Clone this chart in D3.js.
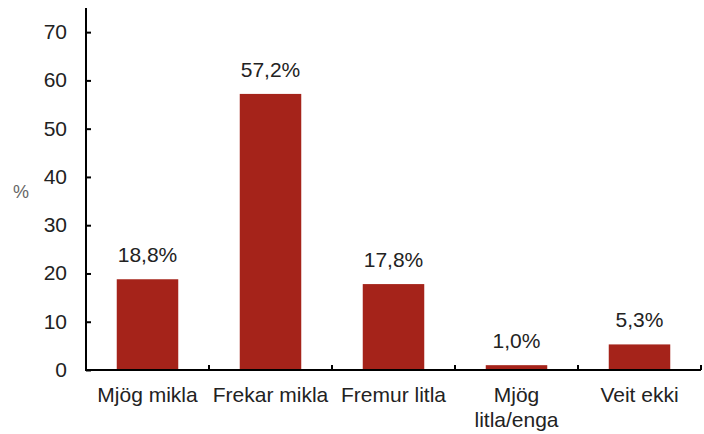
<!DOCTYPE html>
<html>
<head>
<meta charset="utf-8">
<script src="https://cdn.jsdelivr.net/npm/d3@7"></script>
<style>
  body { margin: 0; background: #fff; }
  text { font-family: "Liberation Sans", Arial, sans-serif; }
</style>
</head>
<body>
<svg id="chart"></svg>
<script>
// chart data
let categories = ['Mjög mikla', 'Frekar mikla', 'Fremur litla', 'Mjög litla/enga', 'Veit ekki']
let labelLines = [['Mjög mikla'], ['Frekar mikla'], ['Fremur litla'], ['Mjög', 'litla/enga'], ['Veit ekki']]
let values = [18.8, 57.2, 17.8, 1.0, 5.3]
let valueLabels = ['18,8%', '57,2%', '17,8%', '1,0%', '5,3%']
let yTicks = [0, 10, 20, 30, 40, 50, 60, 70]

let width = 704
let height = 434
let plotLeft = 86, plotRight = 701, plotTop = 8, plotBottom = 370
let barColor = '#a5231a'
let textColor = '#222'
let fontSize = 21

let svg = d3.select('#chart')
            .attr('width', width)
            .attr('height', height)

let xScale = d3.scaleBand()
               .domain(categories)
               .range([plotLeft, plotRight])
               .paddingInner(0.5)
               .paddingOuter(0.25)

let yScale = d3.scaleLinear()
               .domain([0, 75])
               .range([plotBottom, plotTop])

// bars
svg.selectAll('rect.bar')
   .data(values)
   .enter()
   .append('rect')
   .attr('class', 'bar')
   .attr('x', (d, i) => xScale(categories[i]))
   .attr('y', d => yScale(d))
   .attr('width', xScale.bandwidth())
   .attr('height', d => yScale(0) - yScale(d))
   .attr('fill', barColor)

// value labels
svg.selectAll('text.val')
   .data(values)
   .enter()
   .append('text')
   .attr('class', 'val')
   .attr('x', (d, i) => xScale(categories[i]) + xScale.bandwidth() / 2)
   .attr('y', d => yScale(d) - 17)
   .attr('text-anchor', 'middle')
   .attr('font-size', fontSize)
   .attr('fill', textColor)
   .text((d, i) => valueLabels[i])

// y axis
let yAxis = d3.axisRight(yScale)
              .tickValues(yTicks)
              .tickSize(5)
              .tickFormat('')
let yg = svg.append('g')
            .attr('transform', 'translate(' + plotLeft + ',0)')
            .call(yAxis)
yg.select('.domain').attr('d', 'M0,' + plotTop + 'V' + plotBottom).attr('stroke', '#000').attr('stroke-width', 2)
yg.selectAll('.tick line').attr('stroke', '#000').attr('stroke-width', 2)

svg.selectAll('text.ytick')
   .data(yTicks)
   .enter()
   .append('text')
   .attr('class', 'ytick')
   .attr('x', plotLeft - 19)
   .attr('y', d => yScale(d) + 7)
   .attr('text-anchor', 'end')
   .attr('font-size', fontSize)
   .attr('fill', textColor)
   .text(d => d)

// x axis, ticks between the categories
let bounds = d3.range(categories.length + 1).map(i => plotLeft + i * xScale.step())
svg.append('line')
   .attr('x1', plotLeft - 1).attr('x2', plotRight)
   .attr('y1', plotBottom).attr('y2', plotBottom)
   .attr('stroke', '#000').attr('stroke-width', 2)
svg.selectAll('line.xtick')
   .data(bounds.slice(1))
   .enter()
   .append('line')
   .attr('class', 'xtick')
   .attr('x1', d => d).attr('x2', d => d)
   .attr('y1', plotBottom).attr('y2', plotBottom - 5)
   .attr('stroke', '#000').attr('stroke-width', 2)

let xl = svg.selectAll('text.xlab')
            .data(labelLines)
            .enter()
            .append('text')
            .attr('class', 'xlab')
            .attr('text-anchor', 'middle')
            .attr('font-size', fontSize)
            .attr('fill', textColor)
xl.each(function(lines, i) {
    let cx = xScale(categories[i]) + xScale.bandwidth() / 2
    d3.select(this).selectAll('tspan')
      .data(lines)
      .enter()
      .append('tspan')
      .attr('x', cx)
      .attr('y', (d, j) => 402 + j * 25)
      .text(d => d)
})

// axis title
svg.append('text')
   .attr('x', 21)
   .attr('y', 198)
   .attr('text-anchor', 'middle')
   .attr('font-size', 18)
   .attr('fill', '#666')
   .text('%')
</script>
</body>
</html>
